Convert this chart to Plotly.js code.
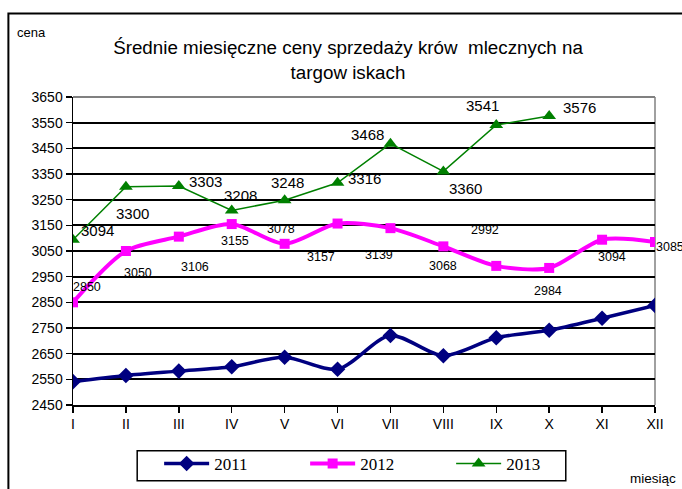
<!DOCTYPE html>
<html>
<head>
<meta charset="utf-8">
<script src="https://cdn.plot.ly/plotly-3.0.1.min.js"></script>
<style>
html,body{margin:0;padding:0;background:#fff;overflow:hidden;}
#chart{width:682px;height:489px;}
</style>
</head>
<body>
<div id="chart"></div>
<script>
// ---- data ----
const months = ['I','II','III','IV','V','VI','VII','VIII','IX','X','XI','XII'];
const seriesNames = ['2011','2012','2013'];
const values2011 = [2541, 2565, 2582, 2599, 2636, 2589, 2721, 2642, 2712, 2741, 2788, 2838];
const values2012 = [2850, 3050, 3106, 3155, 3078, 3157, 3139, 3068, 2992, 2984, 3094, 3085];
const values2013 = [3094, 3300, 3303, 3208, 3248, 3316, 3468, 3360, 3541, 3576];
const yTicks = [2450, 2550, 2650, 2750, 2850, 2950, 3050, 3150, 3250, 3350, 3450, 3550, 3650];

// ---- label placement (pixel offsets, style only) ----
const off2013 = [[24,-9],[7,27],[27,-5],[9,-15],[3,-18],[27,-4],[-23,-9],[22,17],[-14,-19],[30,-8]];
const off2012 = [[14,-15],[12,22],[16,30],[3,17],[-4,-15],[-17,33],[-11,27],[0,20],[-11,-36],[-1,23],[10,17],[15,5]];

const font = 'Liberation Sans, Arial, sans-serif';

const traces = [
  {x: months, y: values2011, name: seriesNames[0], type: 'scatter', mode: 'lines+markers',
   line: {color: '#000080', width: 3.5, shape: 'spline', smoothing: 0.8},
   marker: {symbol: 'diamond', size: 12, color: '#000080'}},
  {x: months, y: values2012, name: seriesNames[1], type: 'scatter', mode: 'lines+markers',
   line: {color: '#FF00FF', width: 4, shape: 'spline', smoothing: 0.8},
   marker: {symbol: 'square', size: 10, color: '#FF00FF'}},
  {x: months.slice(0, values2013.length), y: values2013, name: seriesNames[2], type: 'scatter', mode: 'lines+markers',
   line: {color: '#008000', width: 1.5},
   marker: {symbol: 'triangle-up', size: 12, color: '#008000'}}
];

const annotations = [];
values2013.forEach((v, i) => annotations.push({
  x: months[i], y: v, xref: 'x', yref: 'y', text: String(v), showarrow: false,
  xshift: off2013[i][0], yshift: -off2013[i][1], font: {family: font, size: 15, color: '#000'}
}));
values2012.forEach((v, i) => annotations.push({
  x: months[i], y: v, xref: 'x', yref: 'y', text: String(v), showarrow: false,
  xshift: off2012[i][0], yshift: -off2012[i][1], font: {family: font, size: 12.5, color: '#000'}
}));
annotations.push({xref: 'paper', yref: 'paper', x: -0.072, y: 1.21, text: 'cena', showarrow: false,
  xanchor: 'center', yanchor: 'middle', font: {family: font, size: 13, color: '#000'}});
annotations.push({xref: 'paper', yref: 'paper', x: 0.953, y: -0.238, text: 'miesiąc', showarrow: false,
  xanchor: 'left', yanchor: 'middle', font: {family: font, size: 13.5, color: '#000'}});

const layout = {
  width: 682, height: 489,
  margin: {l: 72.7, r: 26.7, t: 96.7, b: 84, pad: 0, autoexpand: false},
  paper_bgcolor: '#fff', plot_bgcolor: '#fff',
  title: {text: 'Średnie miesięczne ceny sprzedaży krów  mlecznych na<br>targow iskach',
    xref: 'paper', x: 0.4725, xanchor: 'center', yref: 'container', y: 0.889, yanchor: 'middle',
    font: {family: font, size: 18.8, color: '#000'}},
  showlegend: true,
  legend: {orientation: 'h', x: 0.148, xanchor: 'left', y: -0.133, yanchor: 'top',
    borderwidth: 0, bgcolor: 'rgba(0,0,0,0)', entrywidth: 86, entrywidthmode: 'pixels',
    font: {family: 'Liberation Serif, Times New Roman, serif', size: 17, color: '#000'}, itemwidth: 45},
  xaxis: {type: 'category', range: [0, 11], showgrid: false, showline: true, linecolor: '#000', linewidth: 1.5,
    ticks: 'outside', ticklen: 6, tickcolor: '#000', tickwidth: 1.5,
    tickfont: {family: font, size: 14, color: '#000'}, zeroline: false, fixedrange: true},
  yaxis: {range: [2450, 3650], tickvals: yTicks, ticktext: yTicks.map(String), showgrid: true,
    gridcolor: '#000', gridwidth: 2, showline: true, linecolor: '#000', linewidth: 1.5,
    ticks: 'outside', ticklen: 6, tickcolor: '#000', tickwidth: 1.5,
    tickfont: {family: font, size: 14, color: '#000'}, zeroline: false, fixedrange: true},
  shapes: [
    {type: 'line', xref: 'paper', yref: 'paper', x0: 0, x1: 1, y0: 1, y1: 1, line: {color: '#808080', width: 2}, layer: 'above'},
    {type: 'line', xref: 'paper', yref: 'paper', x0: 1, x1: 1, y0: 0, y1: 1, line: {color: '#808080', width: 1.5}, layer: 'below'},
    {type: 'rect', xref: 'paper', yref: 'paper', x0: -0.111, x1: 1.2, y0: -0.4, y1: 1.2715, line: {color: '#000', width: 2}, fillcolor: 'rgba(0,0,0,0)', layer: 'below'},
    {type: 'rect', xref: 'paper', yref: 'paper', x0: 0.1103, x1: 0.8467, y0: -0.1488, y1: -0.2461, line: {color: '#000', width: 1.5}, fillcolor: '#fff', layer: 'below'}
  ],
  annotations: annotations
};

Plotly.newPlot('chart', traces, layout, {displayModeBar: false, staticPlot: true});
</script>
</body>
</html>
